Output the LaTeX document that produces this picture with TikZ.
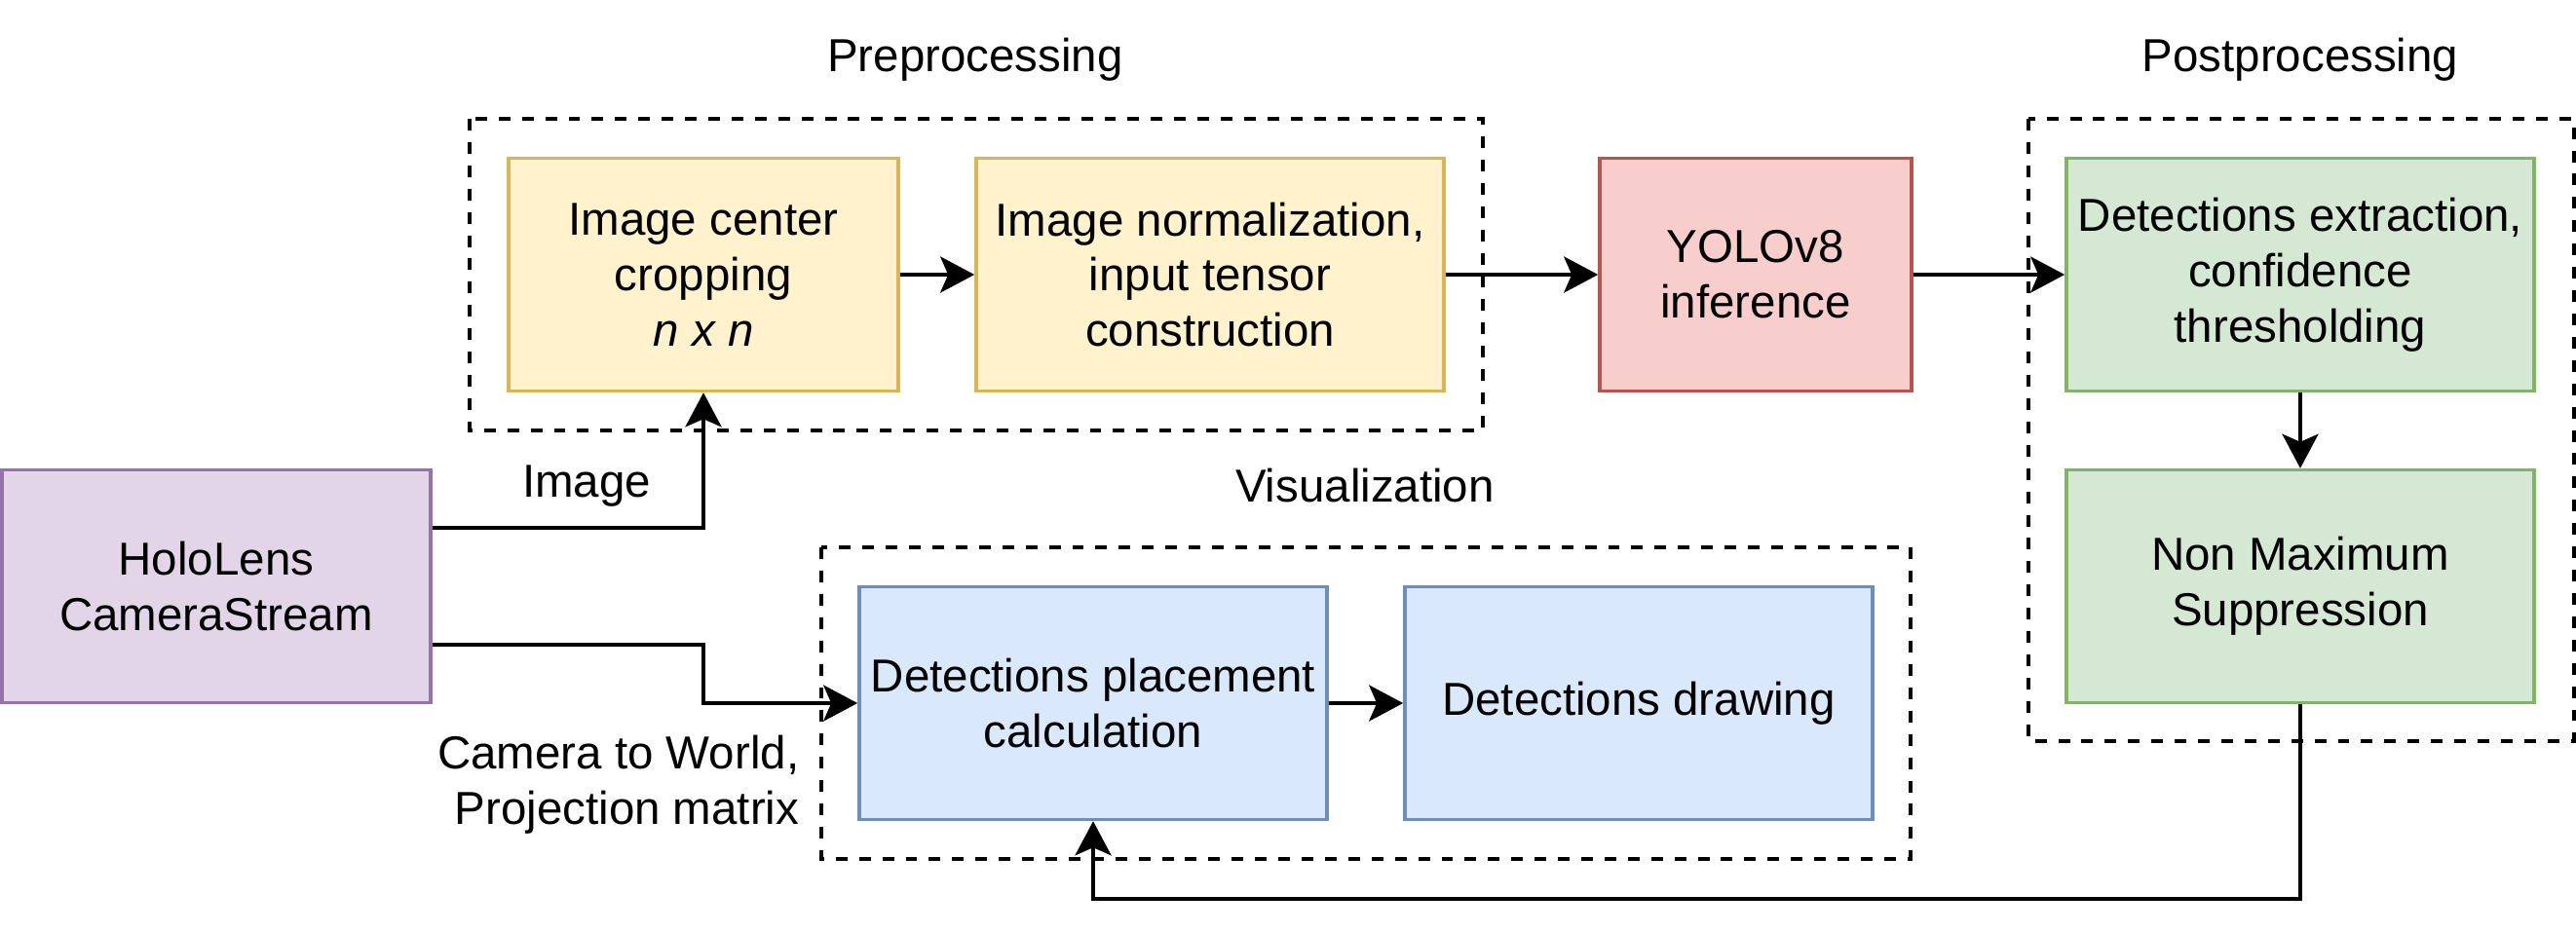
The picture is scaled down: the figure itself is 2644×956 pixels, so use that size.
\documentclass[tikz,border=0pt]{standalone}
\usepackage{fontspec}
\setmainfont{Liberation Sans}
\usetikzlibrary{arrows.meta}

\definecolor{yellowfill}{HTML}{FFF2CC}
\definecolor{yellowline}{HTML}{D6B656}
\definecolor{redfill}{HTML}{F8CECC}
\definecolor{redline}{HTML}{B85450}
\definecolor{greenfill}{HTML}{D5E8D4}
\definecolor{greenline}{HTML}{82B366}
\definecolor{purplefill}{HTML}{E1D5E7}
\definecolor{purpleline}{HTML}{9673A6}
\definecolor{bluefill}{HTML}{DAE8FC}
\definecolor{blueline}{HTML}{6C8EBF}

\begin{document}
\begin{tikzpicture}[x=0.01cm, y=-0.01cm]
        \tikzstyle{label-node}=[font=\fontsize{13.5}{16.2}\selectfont, align=center, inner sep=0pt]
        \tikzstyle{block}=[label-node, draw, line width=0.95pt, minimum height=2.39cm]
        \tikzstyle{group}=[draw, line width=1.1pt, dash pattern=on 3.4pt off 3.4pt]
        \tikzstyle{transition}=[-{Stealth[length=0.35cm, width=0.37cm, inset=0.08cm]}, line width=1.1pt]
        \useasboundingbox (0, 0) rectangle (2644, 956);
        % \draw (0, 0) grid[step=100] (2644, 956);

        % groups
        \draw[group] (482, 122) rectangle (1522, 442);
        \draw[group] (2082, 122) rectangle (2642, 761);
        \draw[group] (843, 562) rectangle (1961, 882);
        \node[label-node] (pre-title) at (1001, 61) {Preprocessing};
        \node[label-node] (post-title) at (2361, 61) {Postprocessing};
        \node[label-node] (vis-title) at (1401, 499) {Visualization};

        \node[block, draw=purpleline, fill=purplefill, minimum width=4.4cm] (hololens) at (222, 602) {HoloLens\\CameraStream};
        \node[block, draw=yellowline, fill=yellowfill, minimum width=4.0cm] (crop) at (722, 282) {Image center\\cropping\\\textit{n x n}};
        \node[block, draw=yellowline, fill=yellowfill, minimum width=4.8cm] (normalize) at (1242, 282) {Image normalization,\\input tensor\\construction};
        \node[block, draw=redline, fill=redfill, minimum width=3.2cm] (yolo) at (1802, 282) {YOLOv8\\inference};
        \node[block, draw=greenline, fill=greenfill, minimum width=4.8cm] (extract) at (2361, 282) {Detections extraction,\\confidence\\thresholding};
        \node[block, draw=greenline, fill=greenfill, minimum width=4.8cm] (nms) at (2361, 602) {Non Maximum\\Suppression};
        \node[block, draw=blueline, fill=bluefill, minimum width=4.8cm] (placement) at (1122, 722) {Detections placement\\calculation};
        \node[block, draw=blueline, fill=bluefill, minimum width=4.8cm] (drawing) at (1682, 722) {Detections drawing};

        % camera stream outputs
        \node[label-node] (image-label) at (602, 499) {Image};
        \node[label-node, anchor=east, align=right] (camera-label) at (821, 806) {Camera to World,\\Projection matrix};
        \draw[transition] ([yshift=0.6cm]hololens.east) -| (crop.south);
        \draw[transition] ([yshift=-0.6cm]hololens.east) -| (crop.south |- placement.west) -- (placement.west);

        \draw[transition] (crop) -- (normalize);
        \draw[transition] (normalize) -- (yolo);
        \draw[transition] (yolo) -- (extract);
        \draw[transition] (extract) -- (nms);
        \draw[transition] (placement) -- (drawing);
        \draw[transition] (nms.south) -- ++(0, 200) -| (placement.south);

    \end{tikzpicture}
\end{document}
